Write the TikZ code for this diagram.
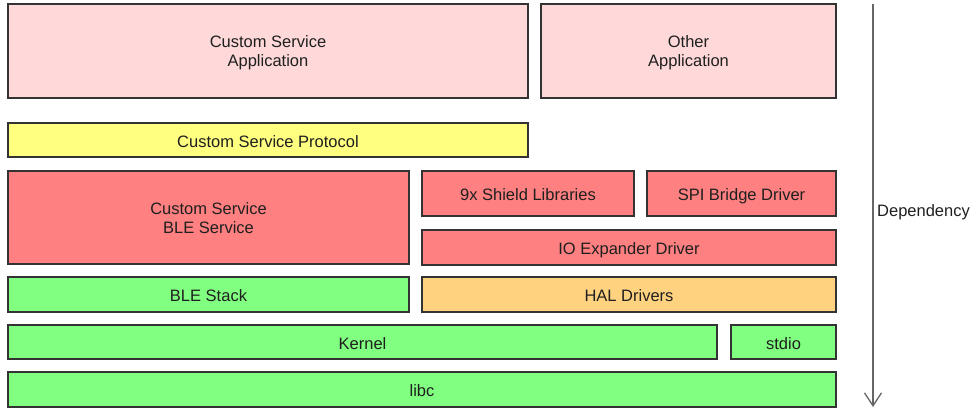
\documentclass[tikz,border=0pt]{standalone}
\usepackage{fontspec}
\setmainfont{Liberation Sans}
\usetikzlibrary{arrows.meta}
\definecolor{cpink}{HTML}{FFD9D9}
\definecolor{cyel}{HTML}{FFFF80}
\definecolor{cred}{HTML}{FF8080}
\definecolor{cgreen}{HTML}{80FF80}
\definecolor{corange}{HTML}{FFD280}
\definecolor{cline}{HTML}{333333}
\definecolor{carrow}{HTML}{666666}
\begin{document}
\begin{tikzpicture}[x=1pt,y=-1pt,
  lay/.style={draw=cline, line width=1.1pt, inner sep=0pt, outer sep=0pt,
    anchor=north west, align=center, text=black!88,
    font=\fontsize{16.5}{19}\selectfont},
  one/.style={lay, text height=14pt, text depth=0pt},
  two/.style={lay, text height=31pt, text depth=0pt},
  deparrow/.style={draw=carrow, line width=1.3pt, -{Straight Barb[length=13pt,width=17pt]}},
  deplabel/.style={anchor=west, inner sep=0pt, text=black!88, text height=14pt, text depth=0pt, font=\fontsize{16.5}{19}\selectfont}]
\useasboundingbox (0,0) rectangle (972,408);
\node[two, fill=cpink, minimum width=520pt, minimum height=94pt] (app) at (8,4) {Custom Service\\Application};
\node[two, fill=cpink, minimum width=295pt, minimum height=94pt] (other) at (541,4) {Other\\Application};
\node[one, fill=cyel, minimum width=520pt, minimum height=34pt] (proto) at (8,123) {Custom Service Protocol};
\node[two, fill=cred, minimum width=401pt, minimum height=93pt] (ble) at (8,171) {Custom Service\\BLE Service};
\node[one, fill=cred, minimum width=212pt, minimum height=45pt] (shield) at (422,171) {9x Shield Libraries};
\node[one, fill=cred, minimum width=189pt, minimum height=45pt] (spi) at (647,171) {SPI Bridge Driver};
\node[one, fill=cred, minimum width=414pt, minimum height=35pt] (io) at (422,230) {IO Expander Driver};
\node[one, fill=cgreen, minimum width=401pt, minimum height=35pt] (stack) at (8,277) {BLE Stack};
\node[one, fill=corange, minimum width=414pt, minimum height=35pt] (hal) at (422,277) {HAL Drivers};
\node[one, fill=cgreen, minimum width=709pt, minimum height=34pt] (kernel) at (8,325) {Kernel};
\node[one, fill=cgreen, minimum width=105pt, minimum height=34pt] (stdio) at (731,325) {stdio};
\node[one, fill=cgreen, minimum width=828pt, minimum height=35pt] (libc) at (8,372) {libc};
\coordinate (atop) at (873,4);
\coordinate (abot) at (873,407);
\draw[deparrow] (atop) -- (abot);
\node[deplabel] (dep) at (877,209) {Dependency};
\end{tikzpicture}
\end{document}
